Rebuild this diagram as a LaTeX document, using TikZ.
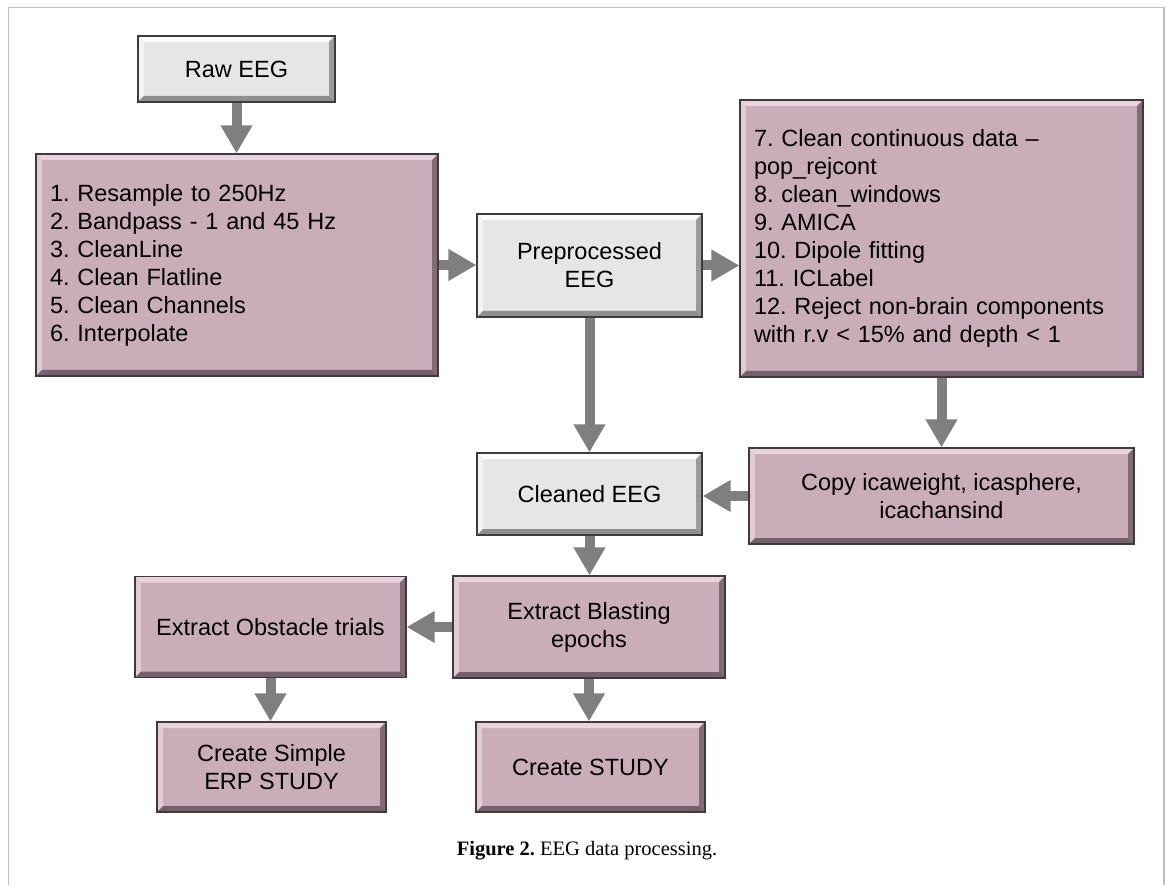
\documentclass[tikz,border=0pt]{standalone}
\usepackage{fontspec}
\setmainfont{Liberation Serif}
\setsansfont{Liberation Sans}
\usetikzlibrary{arrows.meta}
\frenchspacing

\definecolor{mauve}{HTML}{C9AEBA}
\definecolor{mauvehi}{HTML}{EBD3DD}
\definecolor{mauvelo}{HTML}{76606B}
\definecolor{paleg}{HTML}{E6E6E6}
\definecolor{paleghi}{HTML}{FBFBFB}
\definecolor{palelo}{HTML}{8E8E8E}
\definecolor{edgegray}{HTML}{3C3C3C}
\definecolor{arrowgray}{HTML}{7F7F7F}
\definecolor{framegray}{HTML}{BEBEBE}

\newcommand\boxbevel[2]{%
    \fill[#1] (path picture bounding box.north west) -- (path picture bounding box.north east)
        -- ([shift={(-6pt,-6pt)}]path picture bounding box.north east)
        -- ([shift={(6pt,-6pt)}]path picture bounding box.north west) -- cycle;
    \fill[#1!70!white, opacity=.6] (path picture bounding box.north west) -- ([shift={(6pt,-6pt)}]path picture bounding box.north west)
        -- ([shift={(6pt,6pt)}]path picture bounding box.south west)
        -- (path picture bounding box.south west) -- cycle;
    \fill[#2] (path picture bounding box.south west) -- (path picture bounding box.south east)
        -- ([shift={(-6pt,6pt)}]path picture bounding box.south east)
        -- ([shift={(6pt,6pt)}]path picture bounding box.south west) -- cycle;
    \fill[#2, opacity=.85] (path picture bounding box.north east) -- ([shift={(-6pt,-6pt)}]path picture bounding box.north east)
        -- ([shift={(-6pt,6pt)}]path picture bounding box.south east)
        -- (path picture bounding box.south east) -- cycle;
}

\tikzset{
    stage/.style={rectangle, draw=edgegray, line width=1.2pt, inner sep=0pt, align=center,
        font=\sffamily\fontsize{23.5}{28}\selectfont},
    mauvebox/.style={stage, fill=mauve, path picture={\boxbevel{mauvehi}{mauvelo}}},
    greybox/.style={stage, fill=paleg, path picture={\boxbevel{paleghi}{palelo}}},
    listbox/.style={mauvebox, align=left, inner xsep=14pt},
    fatarrow/.style={draw=arrowgray, line width=10pt, -{Triangle[width=30pt,length=28pt]}}
}

\begin{document}
\begin{tikzpicture}[x=1pt,y=-1pt]
    \useasboundingbox (0,0) rectangle (1168,885);
    \draw[framegray, line width=1.5pt] (8.5,885) -- (8.5,7.5) -- (1164,7.5) -- (1164,885);

    \node[greybox, minimum width=197pt, minimum height=66pt] (raw) at (236.5,69) {Raw EEG};
    \node[listbox, text width=374pt, minimum height=222pt] (prep) at (237,265)
        {1. Resample to 250Hz\\2. Bandpass - 1 and 45 Hz\\3. CleanLine\\4. Clean Flatline\\5. Clean Channels\\6. Interpolate};
    \node[greybox, minimum width=225pt, minimum height=103pt] (preproc) at (589.5,265.5) {Preprocessed\\EEG};
    \node[listbox, text width=375pt, minimum height=277pt] (ica) at (941.5,238.5)
        {7. Clean continuous data --\\pop\_rejcont\\8. clean\_windows\\9. AMICA\\10. Dipole fitting\\11. ICLabel\\12. Reject non-brain components\\with r.v < 15\% and depth < 1};
    \node[greybox, minimum width=225pt, minimum height=82pt] (cleaned) at (589.5,494) {Cleaned EEG};
    \node[mauvebox, minimum width=385pt, minimum height=96pt] (copy) at (941.5,496) {Copy icaweight, icasphere,\\icachansind};
    \node[mauvebox, minimum width=272pt, minimum height=102pt] (blast) at (589,627) {Extract Blasting\\epochs};
    \node[mauvebox, minimum width=271pt, minimum height=101pt] (obst) at (270.5,627) {Extract Obstacle trials};
    \node[mauvebox, minimum width=229pt, minimum height=90pt] (simple) at (271.5,767) {Create Simple\\ERP STUDY};
    \node[mauvebox, minimum width=229pt, minimum height=90pt] (study) at (590.5,767) {Create STUDY};

    \draw[fatarrow] (raw.south) -- (raw.south |- prep.north);
    \draw[fatarrow] (prep.east) -- (prep.east -| preproc.west);
    \draw[fatarrow] (preproc.east) -- (preproc.east -| ica.west);
    \draw[fatarrow] (preproc.south) -- (cleaned.north);
    \draw[fatarrow] (ica.south) -- (ica.south |- copy.north);
    \draw[fatarrow] (copy.west) -- (copy.west -| cleaned.east);
    \draw[fatarrow] (cleaned.south) -- (cleaned.south |- blast.north);
    \draw[fatarrow] (blast.west) -- (blast.west -| obst.east);
    \draw[fatarrow] (obst.south) -- (obst.south |- simple.north);
    \draw[fatarrow] (blast.south) -- (blast.south |- study.north);

    \node[font=\fontsize{20.5}{24}\selectfont] (caption) at (587,851) {\textbf{Figure 2.} EEG data processing.};
\end{tikzpicture}
\end{document}
